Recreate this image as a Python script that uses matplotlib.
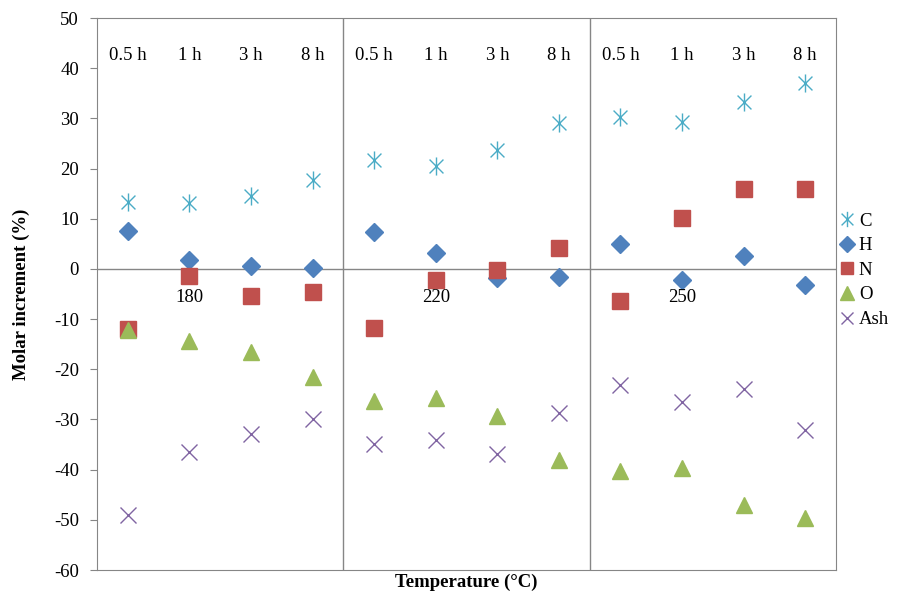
import matplotlib
matplotlib.use("Agg")
import matplotlib.pyplot as plt
import numpy as np
from matplotlib.path import Path

plt.rcParams['font.family'] = ['Liberation Serif', 'DejaVu Serif']
plt.rcParams['axes.unicode_minus'] = False

temps = ['180', '220', '250']
hours = ['0.5 h', '1 h', '3 h', '8 h']

# molar increment (%) per element, 4 times x 3 temperatures
C = [13.4, 13.1, 14.5, 17.7, 21.7, 20.5, 23.8, 29.0, 30.2, 29.3, 33.3, 37.0]
H = [7.6, 1.8, 0.6, 0.1, 7.4, 3.1, -1.8, -1.7, 4.9, -2.2, 2.6, -3.2]
N = [-12.0, -1.5, -5.4, -4.6, -11.7, -2.2, -0.2, 4.2, -6.3, 10.1, 15.9, 15.9]
O = [-12.2, -14.3, -16.6, -21.5, -26.3, -25.8, -29.3, -38.1, -40.3, -39.6, -47.0, -49.7]
Ash = [-49.0, -36.5, -32.9, -30.0, -34.9, -34.1, -36.8, -28.7, -23.1, -26.5, -23.9, -32.0]

# excel style asterisk: x plus vertical bar
star = Path([(-1, -1), (1, 1), (-1, 1), (1, -1), (0, -1.3), (0, 1.3)],
            [Path.MOVETO, Path.LINETO, Path.MOVETO, Path.LINETO, Path.MOVETO, Path.LINETO])

series = [
    ('C', C, star, '#4BACC6', 13),
    ('H', H, 'D', '#4F81BD', 9),
    ('N', N, 's', '#C0504D', 11),
    ('O', O, '^', '#9BBB59', 12),
    ('Ash', Ash, 'x', '#8064A2', 11),
]

x = np.arange(1, 13)

fig = plt.figure(figsize=(9.08, 5.95), dpi=100)
ax = fig.add_axes([0.1068, 0.042, 0.8139, 0.9277])

grey = '#868686'
fs = 13.5
ax.axhline(0, color=grey, lw=1, zorder=1)
for xv in [4.5, 8.5]:
    ax.axvline(xv, color=grey, lw=1, zorder=1)

for name, vals, mk, col, ms in series:
    ax.plot(x, vals, linestyle='none', marker=mk, markersize=ms, color=col,
            markeredgewidth=1.0, label=name, zorder=3)

for g in range(3):
    for i, h in enumerate(hours):
        ax.text(g * 4 + i + 1, 42.6, h, ha='center', va='center', fontsize=fs)
    ax.text(g * 4 + 2, -5.6, temps[g], ha='center', va='center', fontsize=fs)

ax.set_xlim(0.5, 12.5)
ax.set_ylim(-60, 50)
ax.set_yticks(range(-60, 51, 10))
ax.set_xticks([])
ax.tick_params(axis='y', direction='out', length=5, color=grey, labelsize=fs, pad=8)
for s in ax.spines.values():
    s.set_color(grey)

ax.set_ylabel('Molar increment (%)', fontsize=fs, fontweight='bold', labelpad=17)
ax.set_xlabel('Temperature (°C)', fontsize=fs, fontweight='bold', labelpad=3)

ax.legend(loc='center left', bbox_to_anchor=(0.993, 0.543), frameon=False, fontsize=fs,
          handlelength=0.7, handletextpad=0.3, labelspacing=0.4, borderpad=0,
          markerscale=0.85)

fig.savefig('out.png', dpi=100)
